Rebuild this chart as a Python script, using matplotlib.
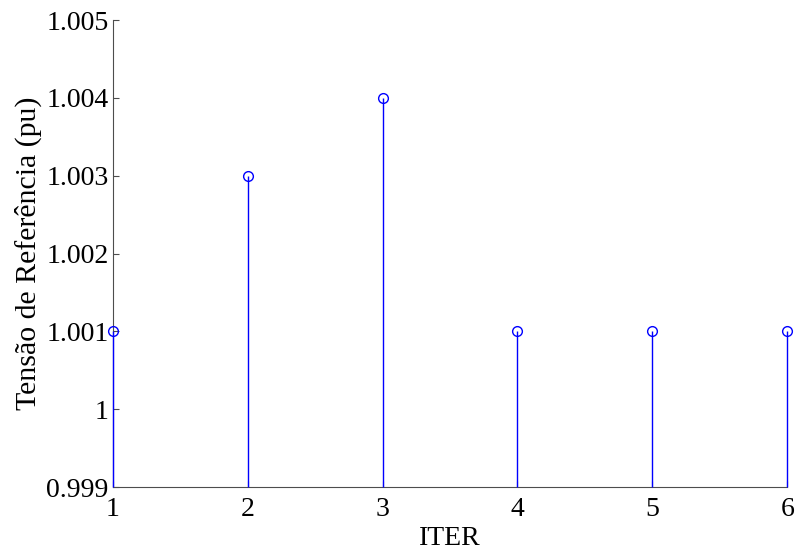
import matplotlib.pyplot as plt

iters = [1, 2, 3, 4, 5, 6]
tensao = [1.001, 1.003, 1.004, 1.001, 1.001, 1.001]
yticks = [0.999, 1.0, 1.001, 1.002, 1.003, 1.004, 1.005]
ytick_labels = ['0.999', '1', '1.001', '1.002', '1.003', '1.004', '1.005']

plt.rcParams['font.family'] = ['Liberation Serif', 'DejaVu Serif']

fig = plt.figure(figsize=(8, 5.56), dpi=100)
ax = fig.add_axes([0.141, 0.124, 0.843, 0.840])

ymin = 0.999
ax.vlines(iters, ymin, tensao, colors='blue', linewidth=1.0, clip_on=False, zorder=3)
ax.plot(iters, tensao, 'o', markersize=7, markerfacecolor='none',
        markeredgecolor='blue', markeredgewidth=1.0, clip_on=False, zorder=4)

ax.set_xlim(1, 6)
ax.set_ylim(ymin, 1.005)
ax.set_xticks(iters)
ax.set_yticks(yticks)
ax.set_yticklabels(ytick_labels)
ax.tick_params(direction='in', length=4, labelsize=20, color='0.3')
ax.tick_params(axis='x', pad=7)
ax.tick_params(axis='y', pad=3)
ax.spines['top'].set_visible(False)
ax.spines['right'].set_visible(False)
ax.spines['left'].set_color('0.3')
ax.spines['bottom'].set_color('0.3')

ax.set_xlabel('ITER', fontsize=20, labelpad=3)
ax.set_ylabel('Tensão de Referência (pu)', fontsize=21.5, labelpad=3)

fig.savefig('out.png', dpi=100)
